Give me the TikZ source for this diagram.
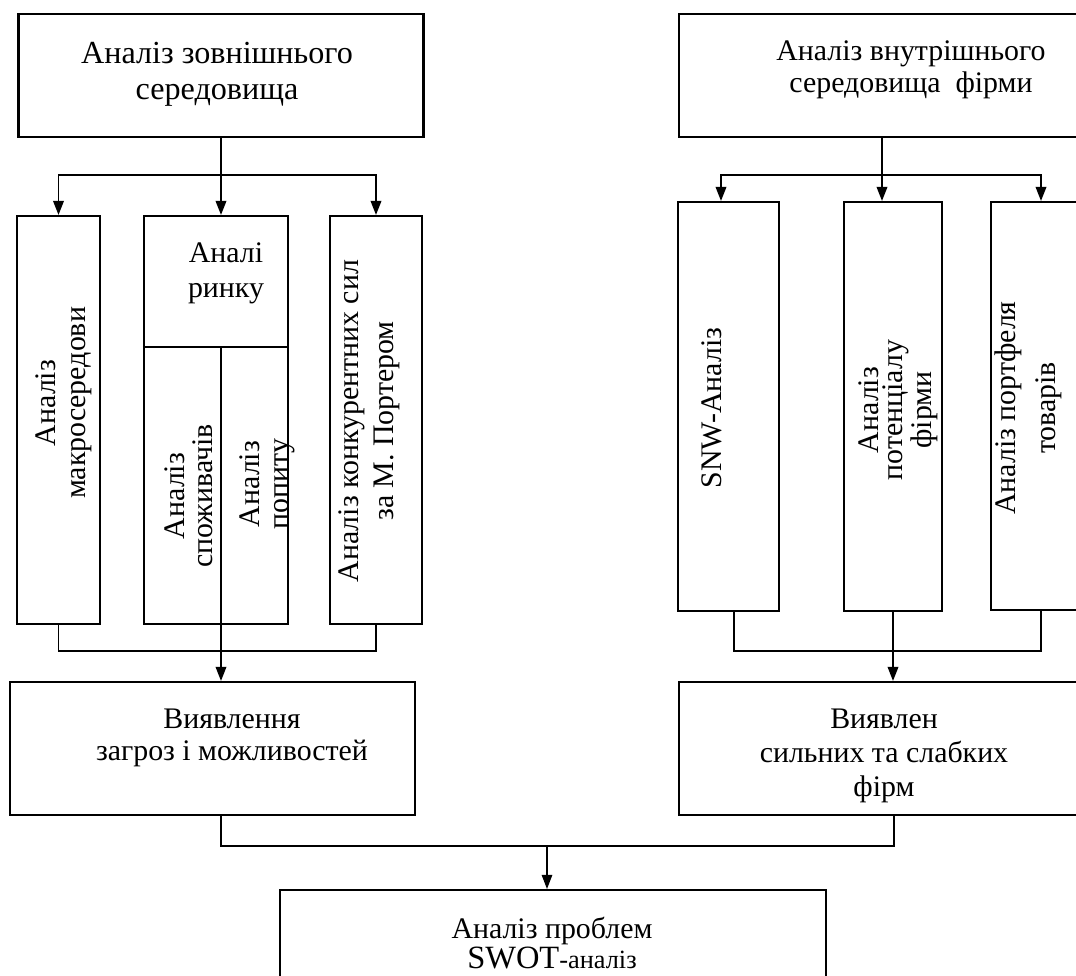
\documentclass[tikz,border=0pt]{standalone}
\usepackage{fontspec}
\setmainfont{Liberation Serif}
\usepackage{tikz}
\usetikzlibrary{arrows.meta}

\tikzset{
    box/.style={draw, line width=1.2pt, inner sep=0pt},
    txt/.style={align=center, inner sep=0pt},
    fs/.style={font=\fontsize{17}{#1}\selectfont},
    arr/.style={-{Triangle[length=8pt, width=6pt]}, line width=1pt}
}

\begin{document}
\begin{tikzpicture}[x=0.02cm, y=-0.02cm, line width=1pt]
        \useasboundingbox (0, 0) rectangle (1076, 976);
        \clip (0, 0) rectangle (1076, 976);
        \draw (221, 75.5) node(ext)[box, minimum width=8.1cm, minimum height=2.46cm]{};
        \draw (217, 74) node(extT)[txt, font=\fontsize{18.3}{20.5}\selectfont]{Аналіз зовнішнього\\середовища};
        \draw (884.5, 75.5) node(int)[box, minimum width=8.22cm, minimum height=2.46cm]{};
        \draw (911, 70) node(intT)[txt, fs=18.2pt]{Аналіз внутрішнього\\середовища\ \ фірми};
        \draw (58.5, 420) node(mac)[box, minimum width=1.66cm, minimum height=8.16cm]{};
        \draw (64, 403) node(macT)[txt, fs=17pt, rotate=90]{Аналіз\\макросередови};
        \draw (216, 420) node(mkt)[box, minimum width=2.88cm, minimum height=8.16cm]{};
        \draw (226, 273) node(mktT)[txt, fs=20pt]{Аналі\\ринку};
        \draw (189, 496) node(consT)[txt, fs=16pt, rotate=90]{Аналіз\\споживачів};
        \draw (267, 484) node(demT)[txt, fs=16.5pt, rotate=90]{Аналіз\\попиту};
        \draw (376, 420) node(por)[box, minimum width=1.84cm, minimum height=8.16cm]{};
        \draw (369.5, 421) node(porT)[txt, fs=20pt, rotate=90]{Аналіз конкурентних сил\\за М. Портером};
        \draw (728.5, 406.5) node(snw)[box, minimum width=2.02cm, minimum height=8.18cm]{};
        \draw (712, 408) node(snwT)[txt, fs=20pt, rotate=90]{SNW-Аналіз};
        \draw (893, 406.5) node(pot)[box, minimum width=1.96cm, minimum height=8.18cm]{};
        \draw (898, 410) node(potT)[txt, fs=13.5pt, rotate=90]{Аналіз\\потенціалу\\фірми};
        \draw (1041, 406) node(prt)[box, minimum width=2.0cm, minimum height=8.16cm]{};
        \draw (1028, 408) node(prtT)[txt, fs=22.8pt, rotate=90]{Аналіз портфеля\\товарів};
        \draw (212.5, 748.5) node(thr)[box, minimum width=8.1cm, minimum height=2.66cm]{};
        \draw (232, 738) node(thrT)[txt, fs=18.2pt]{Виявлення\\загроз і можливостей};
        \draw (884.5, 748.5) node(str)[box, minimum width=8.22cm, minimum height=2.66cm]{};
        \draw (884, 756) node(strT)[txt, fs=19.5pt]{Виявлен\\сильних та слабких\\фірм};
        \draw (553, 950) node(swot)[box, minimum width=10.92cm, minimum height=2.4cm]{};
        \draw (552, 943) node(swotT)[txt, fs=17pt]{Аналіз проблем\\{\fontsize{18.5}{17}\selectfont SWOT}{\fontsize{15}{17}\selectfont -аналіз}};
        \coordinate (ej) at (221, 175);
        \coordinate (msp) at (221, 347);
        \coordinate (lj) at (221, 651);
        \coordinate (ij) at (882, 175);
        \coordinate (rj) at (893, 651);
        \coordinate (bj) at (547, 846);
        \draw (mkt.west |- msp) -- (mkt.east |- msp);
        \draw (ext.south) -- (ej);
        \draw[arr] (ej) -| (mac.north);
        \draw[arr] (ej) -- (ej |- mkt.north);
        \draw[arr] (ej) -| (por.north);
        \draw (mac.south) |- (lj) -| (por.south);
        \draw[arr] (msp) -- (msp |- thr.north);
        \draw (int.south -| ij) -- (ij);
        \draw[arr] (ij) -| ([shift={(-7.5, 0)}]snw.north);
        \draw[arr] (ij) -- (ij |- pot.north);
        \draw[arr] (ij) -| (prt.north);
        \draw ([shift={(5.5, 0)}]snw.south) |- (rj) -| (prt.south);
        \draw[arr] (pot.south) -- (pot.south |- str.north);
        \draw ([shift={(8.5, 0)}]thr.south) |- (bj) -| ([shift={(9.5, 0)}]str.south);
        \draw[arr, line width=0.6pt] (bj) -- (bj |- swot.north);
    \end{tikzpicture}
\end{document}
